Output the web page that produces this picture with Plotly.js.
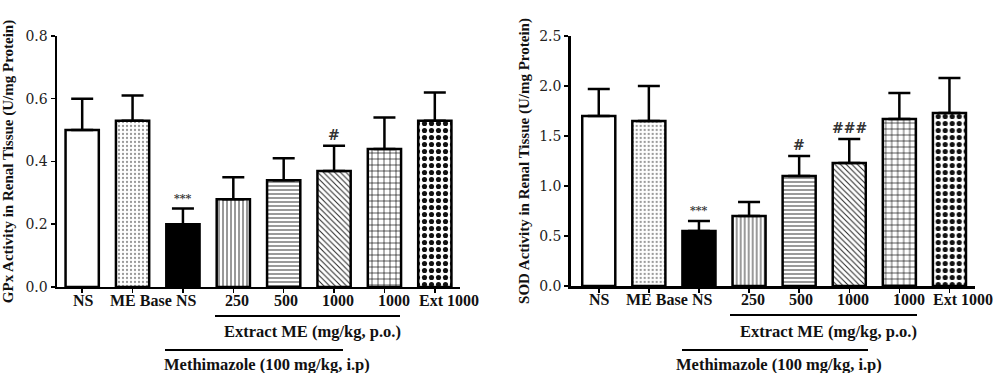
<!DOCTYPE html>
<html>
<head>
<meta charset="utf-8">
<script src="https://cdn.plot.ly/plotly-3.0.1.min.js"></script>
<style>html,body{margin:0;padding:0;background:#fff;}#chart{width:1000px;height:373px;}</style>
</head>
<body>
<div id="chart"></div>
<script>
// ---- data ----
const groupLabels = ['NS', 'ME Base', 'NS', '250', '500', '1000', '1000', 'Ext 1000'];
const gpxMean = [0.50, 0.53, 0.20, 0.28, 0.34, 0.37, 0.44, 0.53];
const gpxErr  = [0.10, 0.08, 0.05, 0.07, 0.07, 0.08, 0.10, 0.09];
const sodMean = [1.70, 1.65, 0.55, 0.70, 1.10, 1.23, 1.67, 1.73];
const sodErr  = [0.27, 0.35, 0.10, 0.14, 0.20, 0.24, 0.26, 0.35];
const gpxMarks = ['', '', '***', '', '', '#', '', ''];
const sodMarks = ['', '', '***', '', '#', '###', '', ''];
const extractLabel = 'Extract ME (mg/kg, p.o.)';
const methLabel = 'Methimazole (100 mg/kg, i.p)';
const gpxTitle = 'GPx Activity in Renal Tissue (U/mg Protein)';
const sodTitle = 'SOD Activity in Renal Tissue (U/mg Protein)';

// ---- styles ----
const idx = groupLabels.map((_, i) => i);
const shapes = ['', '.', '', '|', '-', '\\', '+', '.'];
const fills = ['white', 'white', 'black', 'white', 'white', 'white', 'white', 'white'];
const fg = ['black', '#999', 'black', 'black', 'black', '#222', 'black', '#111'];
const psize = [6, 4, 6, 4, 4, 4, 6, 7];
const psol = [0.3, 0.25, 0.3, 0.2, 0.2, 0.25, 0.2, 0.42];
const labelShift = [1, 8, 4, 4, 2, 4, 10, 14];
const SERIF = 'Liberation Serif, Times New Roman, serif';
const TICKSERIF = 'DejaVu Serif, serif';

function barTraces(mean, err, xa, ya) {
  return mean.map((v, i) => {
    const marker = {color: fills[i], line: {color: 'black', width: 2.5}};
    if (shapes[i]) {
      marker.pattern = {shape: shapes[i], fgcolor: fg[i], bgcolor: fills[i], size: psize[i], solidity: psol[i], fillmode: 'replace'};
    }
    return {
      type: 'bar', x: [idx[i]], y: [v], xaxis: xa, yaxis: ya, width: 0.66,
      marker: marker,
      error_y: {type: 'data', symmetric: false, array: [err[i]], arrayminus: [0],
        color: 'black', thickness: 2.5, width: 11},
      hoverinfo: 'skip', showlegend: false
    };
  });
}

const data = barTraces(gpxMean, gpxErr, 'x', 'y').concat(barTraces(sodMean, sodErr, 'x2', 'y2'));

const xCommon = {
  tickmode: 'array', tickvals: idx, showticklabels: false,
  showline: true, linecolor: 'black', linewidth: 2.5, ticks: 'outside', ticklen: 4, tickwidth: 1.5, tickcolor: 'black',
  showgrid: false, zeroline: false, fixedrange: true
};
const yCommon = {
  showline: true, linecolor: 'black', linewidth: 2.5, ticks: 'outside', ticklen: 4, tickwidth: 1.5, tickcolor: 'black',
  showgrid: false, zeroline: false, fixedrange: true, tickformat: '.1f',
  tickfont: {family: TICKSERIF, size: 14, color: '#222'}
};

function marksAnn(marks, mean, err, xa, ya) {
  const out = [];
  marks.forEach((m, i) => {
    if (!m) return;
    out.push({x: i, y: mean[i] + err[i], xref: xa, yref: ya, text: m, showarrow: false,
      xanchor: 'center', yanchor: 'bottom', yshift: m === '***' ? 2 : 1,
      font: {family: TICKSERIF, size: m === '***' ? 11 : 14, color: '#333', weight: 'bold'}});
  });
  return out;
}
function labelAnn(xa, ya) {
  return groupLabels.map((t, i) => ({x: i, y: 0, xref: xa, yref: ya, text: t, showarrow: false,
    xanchor: 'center', yanchor: 'top', xshift: labelShift[i], yshift: -3,
    font: {family: SERIF, size: 16, color: '#111', weight: 'bold'}}));
}

const bottomFont = {family: SERIF, size: 16.5, color: '#111', weight: 'bold'};
const titleFont = {family: SERIF, size: 15, color: '#111', weight: 'bold'};
const layout = {
  width: 1000, height: 373, margin: {l: 0, r: 0, t: 0, b: 0},
  paper_bgcolor: 'white', plot_bgcolor: 'white', showlegend: false, barmode: 'overlay',
  xaxis: Object.assign({}, xCommon, {domain: [0.057, 0.460], range: [-0.5, 7.5], anchor: 'y'}),
  yaxis: Object.assign({}, yCommon, {domain: [0.2306, 0.9035], range: [0, 0.8], dtick: 0.2, anchor: 'x',
    title: {text: gpxTitle, standoff: 8, font: titleFont}}),
  xaxis2: Object.assign({}, xCommon, {domain: [0.5707, 0.975], range: [-0.56, 7.51], anchor: 'y2'}),
  yaxis2: Object.assign({}, yCommon, {domain: [0.2332, 0.9035], range: [0, 2.5], dtick: 0.5, anchor: 'x2',
    title: {text: sodTitle, standoff: 6, font: titleFont}}),
  shapes: [
    {type: 'line', xref: 'paper', yref: 'paper', x0: 0.215, x1: 0.400, y0: 0.1528, y1: 0.1528, line: {color: 'black', width: 2}},
    {type: 'line', xref: 'paper', yref: 'paper', x0: 0.165, x1: 0.343, y0: 0.0617, y1: 0.0617, line: {color: 'black', width: 2}},
    {type: 'line', xref: 'paper', yref: 'paper', x0: 0.730, x1: 0.917, y0: 0.1555, y1: 0.1555, line: {color: 'black', width: 2}},
    {type: 'line', xref: 'paper', yref: 'paper', x0: 0.682, x1: 0.868, y0: 0.0617, y1: 0.0617, line: {color: 'black', width: 2}}
  ],
  annotations: [
    {xref: 'paper', yref: 'paper', x: 0.312, y: 0.110, text: extractLabel},
    {xref: 'paper', yref: 'paper', x: 0.267, y: 0.0215, text: methLabel},
    {xref: 'paper', yref: 'paper', x: 0.828, y: 0.110, text: extractLabel},
    {xref: 'paper', yref: 'paper', x: 0.779, y: 0.0215, text: methLabel}
  ].map(a => Object.assign(a, {showarrow: false, xanchor: 'center', yanchor: 'middle', font: bottomFont}))
   .concat(labelAnn('x', 'y'), labelAnn('x2', 'y2'))
   .concat(marksAnn(gpxMarks, gpxMean, gpxErr, 'x', 'y'), marksAnn(sodMarks, sodMean, sodErr, 'x2', 'y2'))
};

Plotly.newPlot('chart', data, layout, {staticPlot: true, displayModeBar: false});
</script>
</body>
</html>
